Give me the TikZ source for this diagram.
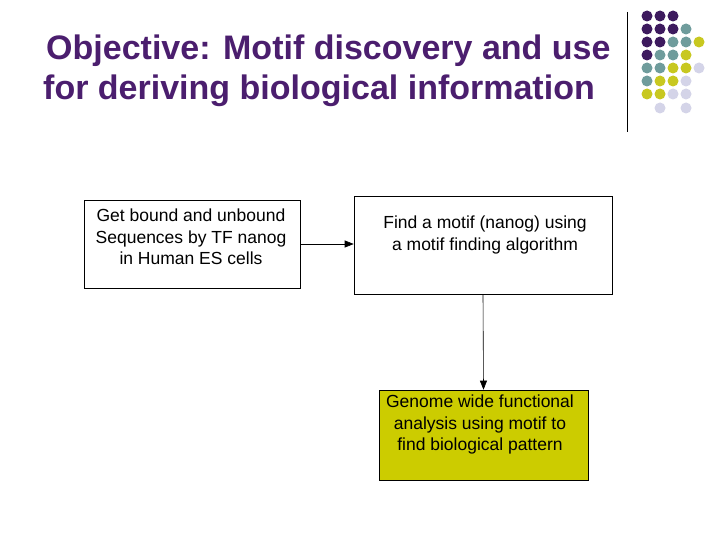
\documentclass[tikz,border=0pt]{standalone}
\usepackage{fontspec}
\setmainfont{Liberation Sans}
\usetikzlibrary{arrows.meta}
\definecolor{pp}{HTML}{3D1A5E}
\definecolor{tt}{HTML}{6F9C9C}
\definecolor{yy}{HTML}{C8C820}
\definecolor{ll}{HTML}{D4D4E8}
\definecolor{ttl}{HTML}{4B1E6E}
\definecolor{gb}{HTML}{CCCC00}
\begin{document}
\begin{tikzpicture}[x=1pt,y=-1pt,
  box/.style={draw,line width=0.6pt,inner sep=0pt},
  txt/.style={align=center,font=\fontsize{17.5}{21.5}\selectfont,anchor=north,inner sep=0pt},
  arr/.style={-{Triangle[length=9pt,width=7pt]},line width=0.6pt}]
\useasboundingbox (0,0) rectangle (720,540);
\fill[white] (0,0) rectangle (720,540);
\node[anchor=base west,text=ttl,font=\fontsize{34}{40}\bfseries\selectfont,inner sep=0pt] (t1) at (46,60) {Objective: Motif discovery and use};
\node[anchor=base west,text=ttl,font=\fontsize{34}{40}\bfseries\selectfont,inner sep=0pt] (t2) at (43,100) {for deriving biological information};
\coordinate (la) at (627,12); \coordinate (lb) at (627,132);
\draw[line width=0.8pt] (la) -- (lb);
\foreach \r/\list in {0/{pp,pp,pp},1/{pp,pp,pp,tt},2/{pp,pp,tt,tt,yy},3/{pp,tt,tt,yy},4/{tt,tt,yy,yy,ll},5/{tt,yy,yy,ll},6/{yy,yy,ll,ll}}{
  \foreach \c [count=\i from 0] in \list {
    \fill[\c] (647+13*\i,16+13*\r) circle (5.5);
  }
}
\fill[ll] (660,108) circle (5.5);
\fill[ll] (686,108) circle (5.5);
\node[box,minimum width=216pt,minimum height=88pt] (b1) at (192,244) {};
\node[txt] (x1) at (191,209) {Get bound and unbound\\Sequences by TF nanog\\in Human ES cells};
\node[box,minimum width=258pt,minimum height=98pt] (b2) at (483,245) {};
\node[txt] (x2) at (485,216) {Find a motif (nanog) using\\a motif finding algorithm};
\node[box,fill=gb,minimum width=209pt,minimum height=90pt] (b3) at (483.5,435) {};
\node[txt] (x3) at (480,395) {Genome wide functional\\analysis using motif to\\find biological pattern};
\draw[arr] (b1.east) -- (b1.east -| b2.west);
\draw[arr] (b2.south) -- (b3.north);
\end{tikzpicture}
\end{document}
